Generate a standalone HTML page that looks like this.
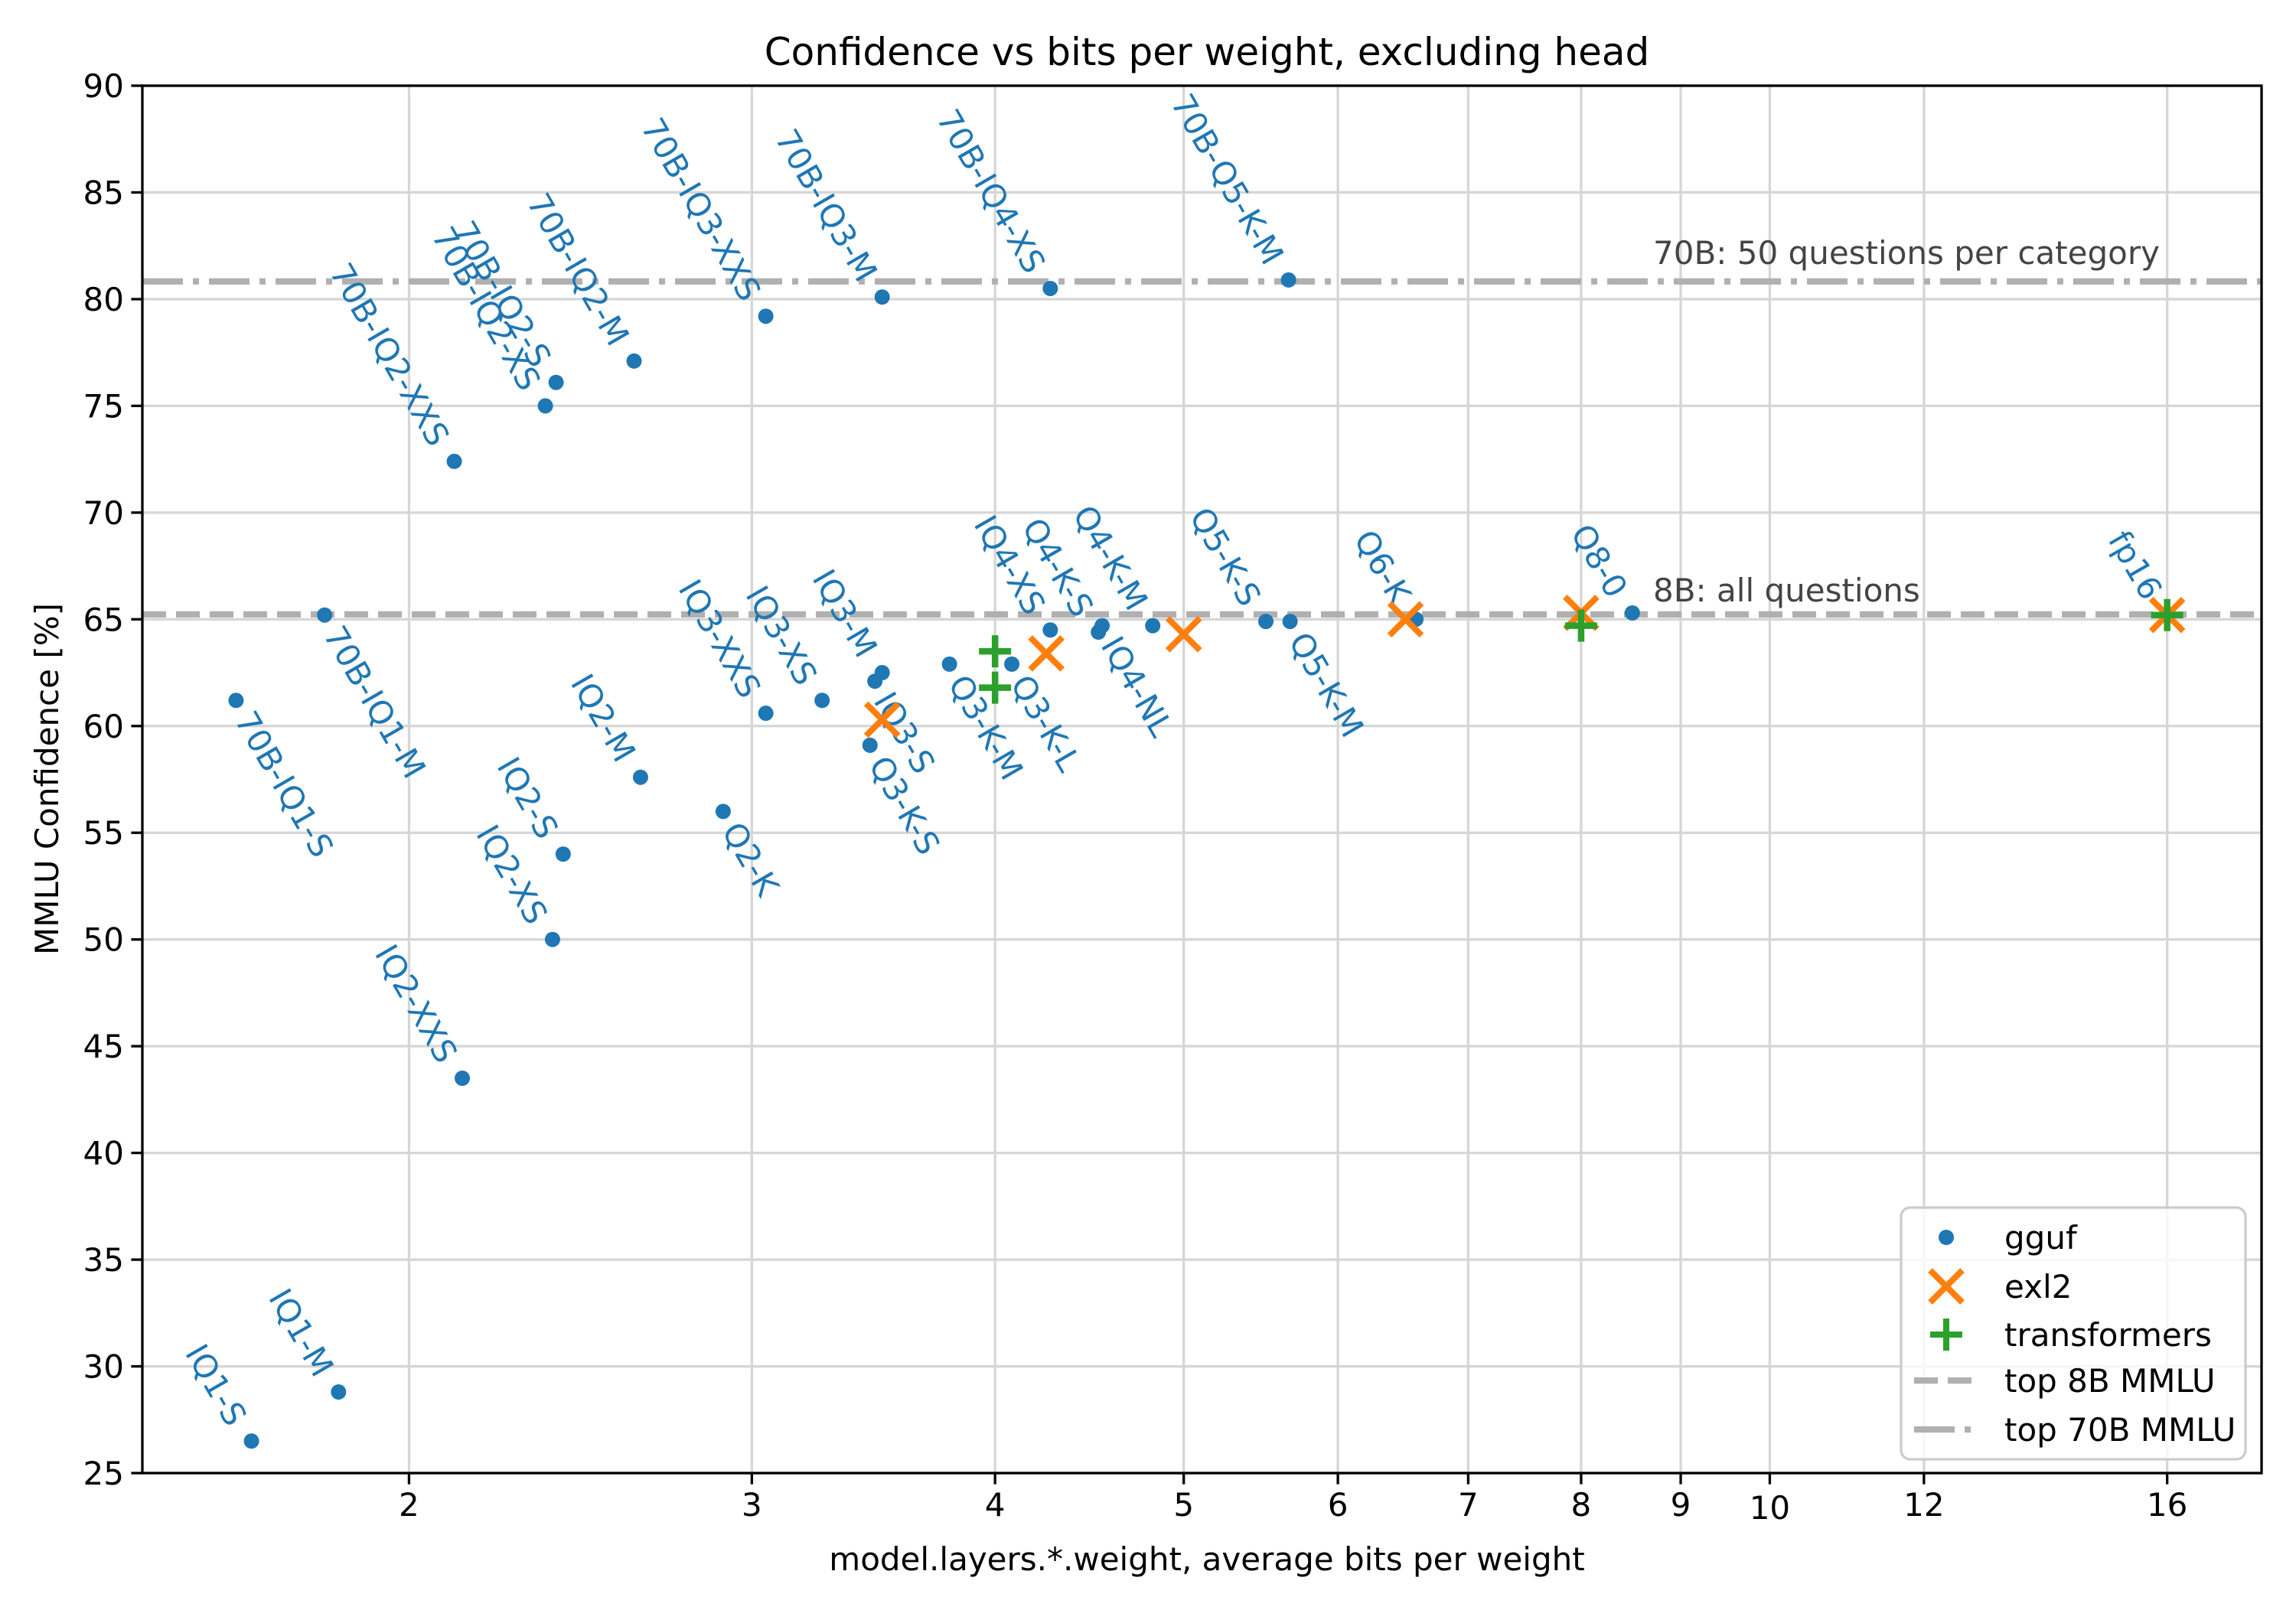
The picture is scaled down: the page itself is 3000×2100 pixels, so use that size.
<!DOCTYPE html>
<html><head><meta charset="utf-8"><style>
html,body{margin:0;padding:0;background:#fff;}
svg{display:block;font-family:"DejaVu Sans","Liberation Sans",sans-serif;}
</style></head><body>
<svg id="chart" width="3000" height="2100" viewBox="0 0 3000 2100" xmlns="http://www.w3.org/2000/svg">
<rect width="3000" height="2100" fill="#fff"/>
<g id="grid"></g>
<g id="refs"></g>
<g id="marks"></g>
<g id="axes"></g>
<text x="1577" y="85" font-size="50" text-anchor="middle">Confidence vs bits per weight, excluding head</text>
<text x="1577" y="2052" font-size="42" text-anchor="middle">model.layers.*.weight, average bits per weight</text>
<text transform="translate(76,1018) rotate(-90)" font-size="42" text-anchor="middle">MMLU Confidence [%]</text>
<text x="2160" y="345" font-size="42" fill="#444">70B: 50 questions per category</text>
<text x="2160" y="786" font-size="42" fill="#444">8B: all questions</text>
<g id="legend">
<rect x="2484" y="1578" width="450" height="329" rx="12" fill="#fff" fill-opacity="0.8" stroke="#ccc" stroke-width="3.3"/>
<circle cx="2543" cy="1617" r="10" fill="#1f77b4"/>
<text x="2619" y="1632" font-size="42">gguf</text>
<path d="M2522,1660 L2564,1702 M2522,1702 L2564,1660" stroke="#ff7f0e" stroke-width="8"/>
<text x="2619" y="1696" font-size="42">exl2</text>
<path d="M2522,1744 L2564,1744 M2543,1723 L2543,1765" stroke="#2ca02c" stroke-width="8"/>
<text x="2619" y="1759" font-size="42">transformers</text>
<line x1="2501" y1="1804" x2="2576" y2="1804" stroke="#b0b0b0" stroke-width="8.3" stroke-dasharray="31,13"/>
<text x="2619" y="1819" font-size="42">top 8B MMLU</text>
<line x1="2501" y1="1868" x2="2576" y2="1868" stroke="#b0b0b0" stroke-width="8.3" stroke-dasharray="53,13,8,13"/>
<text x="2619" y="1883" font-size="42">top 70B MMLU</text>
</g>
</svg>
<script>
// ---- data ----
const ggufNames = ["IQ1-S","IQ1-M","70B-IQ1-S","70B-IQ1-M","IQ2-XXS","IQ2-XS","IQ2-S","IQ2-M","Q2-K",
 "70B-IQ2-XXS","70B-IQ2-XS","70B-IQ2-S","70B-IQ2-M","70B-IQ3-XXS","70B-IQ3-M","70B-IQ4-XS","70B-Q5-K-M",
 "IQ3-XXS","IQ3-XS","IQ3-M","IQ3-S","Q3-K-S","Q3-K-M","Q3-K-L","IQ4-XS","Q4-K-S","IQ4-NL","Q4-K-M",
 "Q5-K-S","Q5-K-M","Q6-K","Q8-0","fp16"];
const ggufBits = [1.66,1.84,1.63,1.81,2.13,2.37,2.40,2.63,2.90,
 2.11,2.35,2.38,2.61,3.05,3.50,4.27,5.66,
 3.05,3.26,3.50,3.47,3.45,3.79,4.08,4.27,4.52,4.54,4.82,
 5.51,5.67,6.58,8.50,16];
const ggufConf = [26.5,28.8,61.2,65.2,43.5,50.0,54.0,57.6,56.0,
 72.4,75.0,76.1,77.1,79.2,80.1,80.5,80.9,
 60.6,61.2,62.5,62.1,59.1,62.9,62.9,64.5,64.4,64.7,64.7,
 64.9,64.9,65.0,65.3,65.2];
const ggufLabelSide = ["b","b","a","a","b","b","b","b","a",
 "b","b","b","b","b","b","b","b",
 "b","b","b","a","a","a","a","b","b","a","b",
 "b","a","b","b","b"];
const exl2Bits = [3.5,4.25,5.0,6.5,8.0,16];
const exl2Conf = [60.3,63.4,64.3,65.0,65.3,65.2];
const tfBits = [4.0,4.0,8.0,16];
const tfConf = [63.5,61.8,64.7,65.2];
const top8B = 65.23;
const top70B = 80.83;
const yTicks = [25,30,35,40,45,50,55,60,65,70,75,80,85,90];
const xTicks = [2,3,4,5,6,7,8,9,10,12,16];

// ---- axes ----
const L=186,R=2955,T=112,B=1925;
const XMIN=1.459, XMAX=17.89, YMIN=25, YMAX=90;
function sx(v){return L+(Math.log(v)-Math.log(XMIN))/(Math.log(XMAX)-Math.log(XMIN))*(R-L);}
function sy(v){return B-(v-YMIN)/(YMAX-YMIN)*(B-T);}
const NS="http://www.w3.org/2000/svg";
function mk(tag,attrs,parent){const e=document.createElementNS(NS,tag);for(const k in attrs)e.setAttribute(k,attrs[k]);parent.appendChild(e);return e;}
const grid=document.getElementById('grid'), axes=document.getElementById('axes'), refs=document.getElementById('refs'), marks=document.getElementById('marks');

yTicks.forEach(v=>{
  const y=sy(v);
  const g=mk('line',{x1:L,x2:R,y1:y,y2:y,stroke:'#d6d6d6','stroke-width':3.3},grid);
  
  
  const t=mk('line',{x1:L-14.6,x2:L,y1:y,y2:y,stroke:'#000','stroke-width':3.3},axes);
  
  
  const lab=mk('text',{x:L-24,y:y+15,'font-size':42,'text-anchor':'end'},axes);
  lab.textContent=v;
  
  
});
xTicks.forEach(v=>{
  const x=sx(v);
  const g=mk('line',{x1:x,x2:x,y1:T,y2:B,stroke:'#d6d6d6','stroke-width':3.3},grid);
  
  
  const t=mk('line',{x1:x,x2:x,y1:B,y2:B+14.6,stroke:'#000','stroke-width':3.3},axes);
  
  
  const lab=mk('text',{x:x,y:v===10?1985:1981,'font-size':42,'text-anchor':'middle'},axes);
  lab.textContent=v;
  
  
});
const frame=mk('rect',{x:L,y:T,width:R-L,height:B-T,fill:'none',stroke:'#000','stroke-width':3.3},axes);



const l8=mk('line',{x1:L,x2:R,y1:sy(top8B),y2:sy(top8B),stroke:'#b0b0b0','stroke-width':8.3,'stroke-dasharray':'31,13'},refs);


const l70=mk('line',{x1:L,x2:R,y1:sy(top70B),y2:sy(top70B),stroke:'#b0b0b0','stroke-width':8.3,'stroke-dasharray':'53,13,8,13'},refs);



ggufBits.forEach((b,i)=>{
  const x=sx(b), y=sy(ggufConf[i]);
  const c=mk('circle',{cx:x,cy:y,r:10,fill:'#1f77b4'},marks);
  
  
  let ax,ay,anchor;
  if(ggufLabelSide[i]==='b'){ax=x-18;ay=y-24;anchor='end';}
  else {ax=x+10;ay=y+18;anchor='start';}
  const t=mk('text',{x:0,y:0,'font-size':42,fill:'#1f77b4','text-anchor':anchor,'dominant-baseline':'central',transform:`translate(${ax},${ay}) rotate(60)`},marks);
  t.textContent=ggufNames[i];
  
  
});
exl2Bits.forEach((b,i)=>{
  const x=sx(b), y=sy(exl2Conf[i]), s=21;
  const p=mk('path',{d:`M${x-s},${y-s} L${x+s},${y+s} M${x-s},${y+s} L${x+s},${y-s}`,stroke:'#ff7f0e','stroke-width':8},marks);
  
  
});
tfBits.forEach((b,i)=>{
  const x=sx(b), y=sy(tfConf[i]), s=21;
  const p=mk('path',{d:`M${x-s},${y} L${x+s},${y} M${x},${y-s} L${x},${y+s}`,stroke:'#2ca02c','stroke-width':8.5},marks);
  
  
});
</script>
</body></html>
